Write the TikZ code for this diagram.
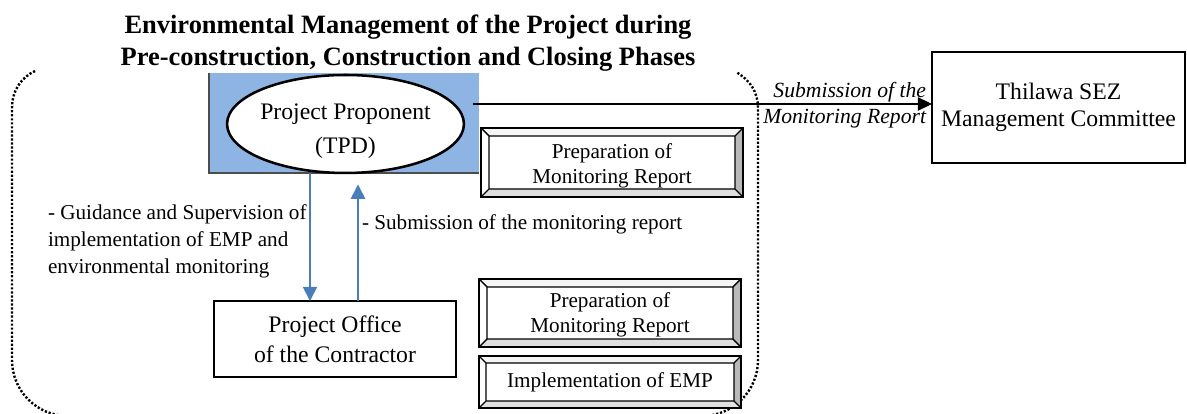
\documentclass[tikz,border=0pt]{standalone}
\usepackage{fontspec}
\setmainfont{Liberation Serif}
\usetikzlibrary{calc,fit,shapes.geometric,arrows.meta}
\definecolor{boxblue}{RGB}{142,180,227}
\definecolor{arrblue}{RGB}{74,126,187}
\newcommand\bevelize[2]{%
 \coordinate (#1-nw) at ($(#1.north west)+(#2,#2)$);
 \coordinate (#1-ne) at ($(#1.north east)+(-#2,#2)$);
 \coordinate (#1-se) at ($(#1.south east)+(-#2,-#2)$);
 \coordinate (#1-sw) at ($(#1.south west)+(#2,-#2)$);
 \fill[gray!8] (#1.north west) -- (#1.north east) -- (#1-ne) -- (#1-nw) -- cycle;
 \fill[gray!55] (#1.north east) -- (#1.south east) -- (#1-se) -- (#1-ne) -- cycle;
 \fill[gray!25] (#1.south east) -- (#1.south west) -- (#1-sw) -- (#1-se) -- cycle;
 \draw[line width=0.6pt] (#1-nw) rectangle (#1-se)
   (#1.north west) -- (#1-nw) (#1.north east) -- (#1-ne)
   (#1.south east) -- (#1-se) (#1.south west) -- (#1-sw);
 \draw[line width=0.9pt] (#1.north west) rectangle (#1.south east);
}
\begin{document}
\begin{tikzpicture}[x=0.4348pt,y=-0.4348pt,
  every node/.style={inner sep=0pt, outer sep=0pt},
  plainbox/.style={draw=black, line width=0.9pt, align=center, font=\fontsize{10.3}{12.5}\selectfont},
  bevelbox/.style={draw=black, line width=0.9pt, align=center, minimum width=113.9pt, font=\fontsize{9.2}{10.9}\selectfont},
  lbl/.style={align=left, font=\fontsize{9.2}{11.7}\selectfont},
  bluearrow/.style={draw=arrblue, line width=0.7pt, -{Triangle[length=6.2pt,width=6.2pt]}},
  blackarrow/.style={draw=black, line width=0.8pt, -{Triangle[length=6.2pt,width=5.8pt]}},
  dottedline/.style={line width=1.05pt, dash pattern=on 0.95pt off 0.8pt},
]
\useasboundingbox (0,0) rectangle (1187,414);

% dotted rounded frame (top edge hidden)
\draw[dottedline] (35,71) .. controls (22,77) and (12,90) .. (12,108)
  -- (12,360) .. controls (12,391) and (37,416) .. (68,416)
  -- (702,416) .. controls (733,416) and (758,391) .. (758,360)
  -- (758,108) .. controls (758,92) and (750,80) .. (736,72);

% title
\node[align=center, font=\bfseries\fontsize{11.5}{13.9}\selectfont] (title) at (408,43)
  {Environmental Management of the Project during\\Pre-construction, Construction and Closing Phases};

% project proponent
\node[fit={(209,73) (479,173)}, fill=boxblue] (blue) {};
\draw[line width=0.8pt, gray!60!black] (blue.north west) -- (blue.south west) -- (blue.south east);
\node[ellipse, draw=black, line width=1.1pt, fill=white, minimum width=103pt, minimum height=42.6pt] (tpd) at (345.5,124) {};
\node[align=center, font=\fontsize{10.3}{14.6}\selectfont] (tpdtext) at (345.5,131) {Project Proponent\\(TPD)};

% Thilawa
\node[plainbox, minimum width=110pt, minimum height=48.3pt, font=\fontsize{10.3}{11.7}\selectfont] (sez) at (1058.5,107.5) {Thilawa SEZ\\Management Committee};

% submission arrow
\coordinate (a1) at ($(blue.east)+(-6,-19)$);
\draw[blackarrow] (a1) -- (a1 -| sez.west);
\node[align=right, anchor=east, font=\itshape\fontsize{9.4}{11.3}\selectfont] (sublbl) at (926,105)
  {Submission of the\\Monitoring Report};

% bevel boxes
\node[bevelbox, minimum height=30pt] (prep1) at (612,162.5) {};
\bevelize{prep1}{8}
\node[bevelbox, minimum width=0pt, minimum height=0pt, draw=none] (prep1text) at (612,166) {Preparation of\\Monitoring Report};
\node[bevelbox, minimum height=29.6pt] (prep2) at (610,313) {};
\bevelize{prep2}{8}
\node[bevelbox, minimum width=0pt, minimum height=0pt, draw=none] (prep2text) at (610,315) {Preparation of\\Monitoring Report};
\node[bevelbox, minimum height=22.6pt] (impl) at (610,382) {Implementation of EMP};
\bevelize{impl}{7}

% contractor office
\node[plainbox, minimum width=105.2pt, minimum height=33pt, font=\fontsize{10.3}{13}\selectfont] (office) at (335,339) {Project Office\\of the Contractor};

% blue arrows
\coordinate (dx) at (310,0);
\coordinate (ux) at (358,0);
\draw[bluearrow] (blue.south -| dx) -- (office.north -| dx);
\draw[bluearrow, shorten >=5pt] (office.north -| ux) -- (blue.south -| ux);

% labels
\node[lbl, anchor=west] (guide) at (48,241)
  {- Guidance and Supervision of\\implementation of EMP and\\environmental monitoring};
\node[lbl, anchor=west] (subm) at (362,224) {- Submission of the monitoring report};
\end{tikzpicture}
\end{document}
